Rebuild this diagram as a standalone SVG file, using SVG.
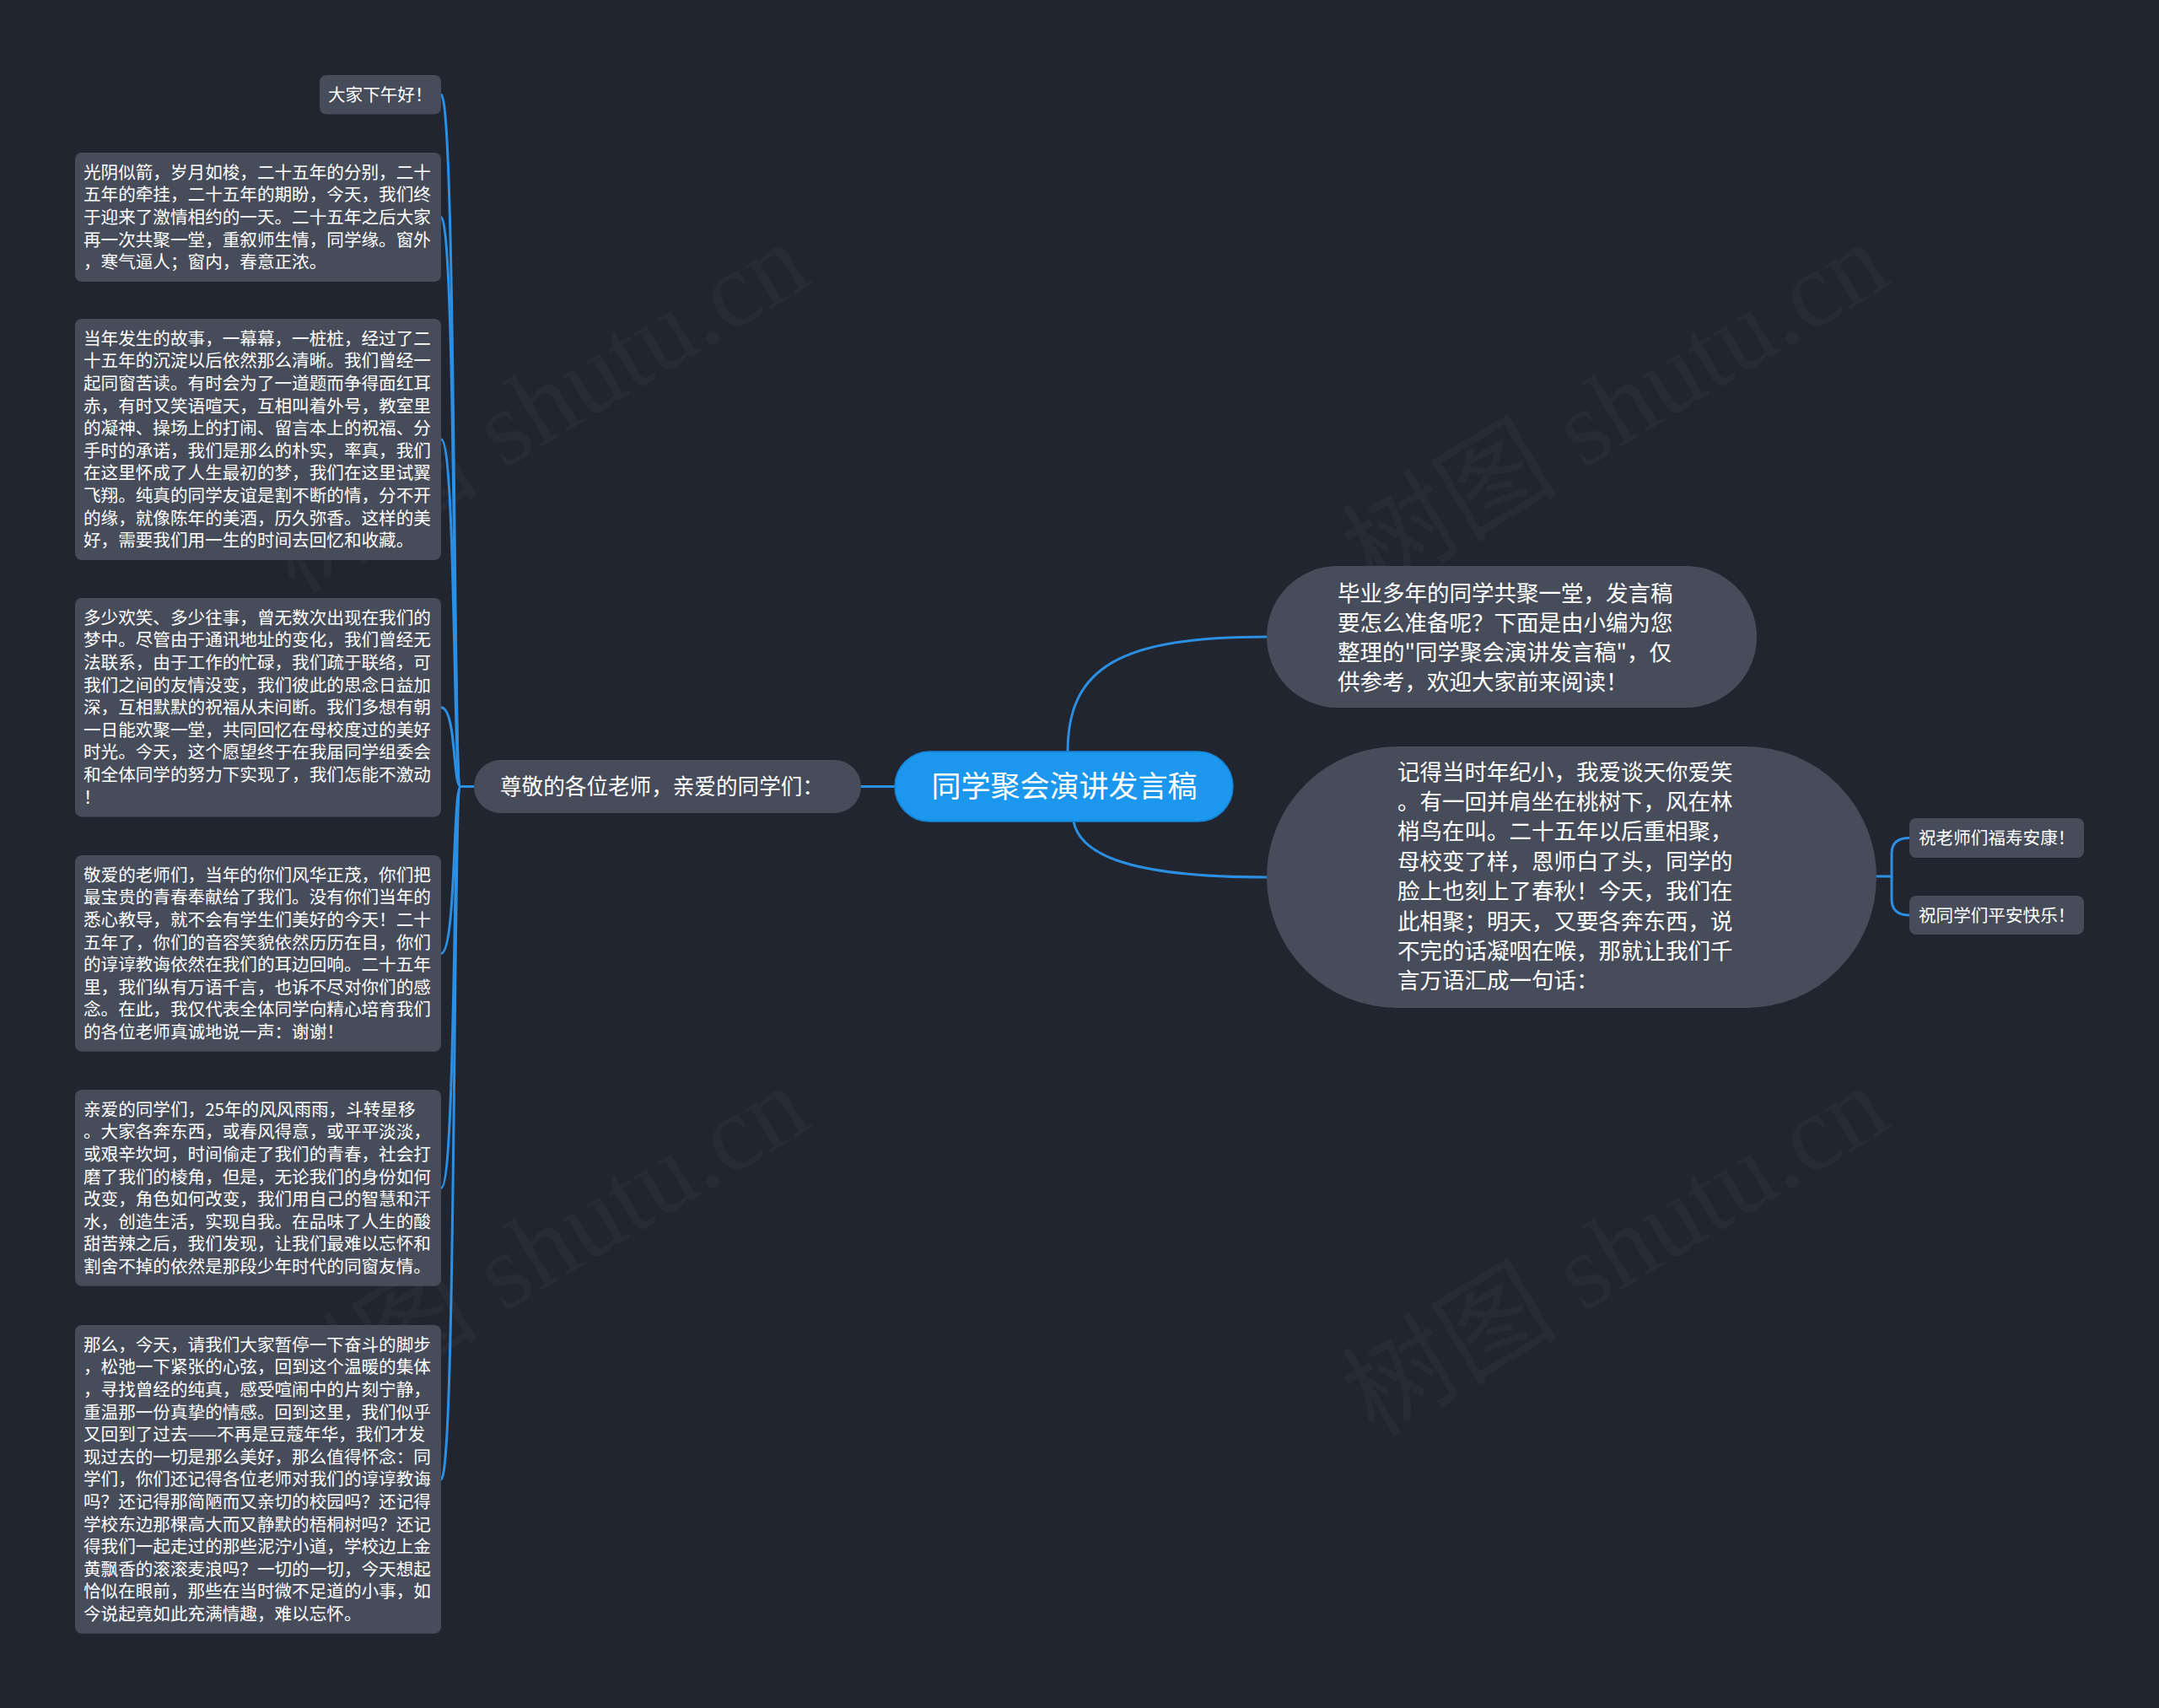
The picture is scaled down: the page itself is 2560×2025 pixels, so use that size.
<svg xmlns="http://www.w3.org/2000/svg" width="2560" height="2025" viewBox="0 0 2560 2025">
<style>
.bg{fill:#21252f}
.wm{font-family:"Liberation Serif","Noto Sans CJK SC",serif;font-size:128px;fill:#ffffff;fill-opacity:0.03}
.box{fill:#464c5a}
.t{font-family:"Noto Sans CJK SC","Noto Sans",sans-serif;fill:#ffffff}
.s{font-size:20.6px}
.m{font-size:26.5px}
.lnk{fill:none;stroke:#2b8fe4;stroke-width:3;stroke-linecap:round}
</style>
<rect class="bg" x="0" y="0" width="2560" height="2025"/>
<g id="watermarks">
<text class="wm" x="350" y="705" transform="rotate(-31 350 705)">树图 shutu.cn</text>
<text class="wm" x="1630" y="705" transform="rotate(-31 1630 705)">树图 shutu.cn</text>
<text class="wm" x="350" y="1705" transform="rotate(-31 350 1705)">树图 shutu.cn</text>
<text class="wm" x="1630" y="1705" transform="rotate(-31 1630 1705)">树图 shutu.cn</text>
</g>
<g id="connectors">
<path class="lnk" d="M1061 932.5 H1021"/>
<path class="lnk" d="M562 932.5 H546 C537 932.5 541 112.3 523 112.3"/>
<path class="lnk" d="M562 932.5 H546 C537 932.5 541 257.5 523 257.5"/>
<path class="lnk" d="M562 932.5 H546 C537 932.5 541 521 523 521"/>
<path class="lnk" d="M562 932.5 H546 C537 932.5 541 838.7 523 838.7"/>
<path class="lnk" d="M562 932.5 H546 C537 932.5 541 1130.4 523 1130.4"/>
<path class="lnk" d="M562 932.5 H546 C537 932.5 541 1408.4 523 1408.4"/>
<path class="lnk" d="M562 932.5 H546 C537 932.5 541 1753.9 523 1753.9"/>
<path class="lnk" d="M1266 891 C1266 790 1330 755 1502 755"/>
<path class="lnk" d="M1273 974 C1280 1010 1330 1040 1502 1040"/>
<path class="lnk" d="M2225 1039 H2243 V1012 Q2243 993.5 2264 993.5"/>
<path class="lnk" d="M2243 1039 V1066 Q2243 1085 2264 1085"/>
</g>
<g id="root">
<rect x="1061" y="891" width="401" height="83" rx="41.5" fill="#1c97ee" stroke="#1583d2" stroke-width="1.5"/>
<text class="t" x="1262" y="944.6" font-size="35" text-anchor="middle">同学聚会演讲发言稿</text>
</g>
<g id="n-greeting">
<rect class="box" x="562" y="901" width="459" height="63" rx="31.5"/>
<text class="t" x="593" y="941.5" font-size="25.6">尊敬的各位老师，亲爱的同学们：</text>
</g>
<g id="n-b1">
<rect class="box" x="379" y="89" width="144" height="46.6" rx="8"/>
<text class="t s" x="389" y="119.7">大家下午好！</text>
</g>
<g id="n-b2">
<rect class="box" x="89" y="181" width="434" height="153" rx="8"/>
<text class="t s" x="99" y="211.7"><tspan x="99">光阴似箭，岁月如梭，二十五年的分别，二十</tspan><tspan x="99" dy="26.6">五年的牵挂，二十五年的期盼，今天，我们终</tspan><tspan x="99" dy="26.6">于迎来了激情相约的一天。二十五年之后大家</tspan><tspan x="99" dy="26.6">再一次共聚一堂，重叙师生情，同学缘。窗外</tspan><tspan x="99" dy="26.6">，寒气逼人；窗内，春意正浓。</tspan></text>
</g>
<g id="n-b3">
<rect class="box" x="89" y="378" width="434" height="286" rx="8"/>
<text class="t s" x="99" y="408.7"><tspan x="99">当年发生的故事，一幕幕，一桩桩，经过了二</tspan><tspan x="99" dy="26.6">十五年的沉淀以后依然那么清晰。我们曾经一</tspan><tspan x="99" dy="26.6">起同窗苦读。有时会为了一道题而争得面红耳</tspan><tspan x="99" dy="26.6">赤，有时又笑语喧天，互相叫着外号，教室里</tspan><tspan x="99" dy="26.6">的凝神、操场上的打闹、留言本上的祝福、分</tspan><tspan x="99" dy="26.6">手时的承诺，我们是那么的朴实，率真，我们</tspan><tspan x="99" dy="26.6">在这里怀成了人生最初的梦，我们在这里试翼</tspan><tspan x="99" dy="26.6">飞翔。纯真的同学友谊是割不断的情，分不开</tspan><tspan x="99" dy="26.6">的缘，就像陈年的美酒，历久弥香。这样的美</tspan><tspan x="99" dy="26.6">好，需要我们用一生的时间去回忆和收藏。</tspan></text>
</g>
<g id="n-b4">
<rect class="box" x="89" y="709" width="434" height="259.4" rx="8"/>
<text class="t s" x="99" y="739.7"><tspan x="99">多少欢笑、多少往事，曾无数次出现在我们的</tspan><tspan x="99" dy="26.6">梦中。尽管由于通讯地址的变化，我们曾经无</tspan><tspan x="99" dy="26.6">法联系，由于工作的忙碌，我们疏于联络，可</tspan><tspan x="99" dy="26.6">我们之间的友情没变，我们彼此的思念日益加</tspan><tspan x="99" dy="26.6">深，互相默默的祝福从未间断。我们多想有朝</tspan><tspan x="99" dy="26.6">一日能欢聚一堂，共同回忆在母校度过的美好</tspan><tspan x="99" dy="26.6">时光。今天，这个愿望终于在我届同学组委会</tspan><tspan x="99" dy="26.6">和全体同学的努力下实现了，我们怎能不激动</tspan><tspan x="99" dy="26.6">！</tspan></text>
</g>
<g id="n-b5">
<rect class="box" x="89" y="1014" width="434" height="232.8" rx="8"/>
<text class="t s" x="99" y="1044.7"><tspan x="99">敬爱的老师们，当年的你们风华正茂，你们把</tspan><tspan x="99" dy="26.6">最宝贵的青春奉献给了我们。没有你们当年的</tspan><tspan x="99" dy="26.6">悉心教导，就不会有学生们美好的今天！二十</tspan><tspan x="99" dy="26.6">五年了，你们的音容笑貌依然历历在目，你们</tspan><tspan x="99" dy="26.6">的谆谆教诲依然在我们的耳边回响。二十五年</tspan><tspan x="99" dy="26.6">里，我们纵有万语千言，也诉不尽对你们的感</tspan><tspan x="99" dy="26.6">念。在此，我仅代表全体同学向精心培育我们</tspan><tspan x="99" dy="26.6">的各位老师真诚地说一声：谢谢！</tspan></text>
</g>
<g id="n-b6">
<rect class="box" x="89" y="1292" width="434" height="232.8" rx="8"/>
<text class="t s" x="99" y="1322.7"><tspan x="99">亲爱的同学们，25年的风风雨雨，斗转星移</tspan><tspan x="99" dy="26.6">。大家各奔东西，或春风得意，或平平淡淡，</tspan><tspan x="99" dy="26.6">或艰辛坎坷，时间偷走了我们的青春，社会打</tspan><tspan x="99" dy="26.6">磨了我们的棱角，但是，无论我们的身份如何</tspan><tspan x="99" dy="26.6">改变，角色如何改变，我们用自己的智慧和汗</tspan><tspan x="99" dy="26.6">水，创造生活，实现自我。在品味了人生的酸</tspan><tspan x="99" dy="26.6">甜苦辣之后，我们发现，让我们最难以忘怀和</tspan><tspan x="99" dy="26.6">割舍不掉的依然是那段少年时代的同窗友情。</tspan></text>
</g>
<g id="n-b7">
<rect class="box" x="89" y="1571" width="434" height="365.8" rx="8"/>
<text class="t s" x="99" y="1601.7"><tspan x="99">那么，今天，请我们大家暂停一下奋斗的脚步</tspan><tspan x="99" dy="26.6">，松弛一下紧张的心弦，回到这个温暖的集体</tspan><tspan x="99" dy="26.6">，寻找曾经的纯真，感受喧闹中的片刻宁静，</tspan><tspan x="99" dy="26.6">重温那一份真挚的情感。回到这里，我们似乎</tspan><tspan x="99" dy="26.6">又回到了过去——不再是豆蔻年华，我们才发</tspan><tspan x="99" dy="26.6">现过去的一切是那么美好，那么值得怀念：同</tspan><tspan x="99" dy="26.6">学们，你们还记得各位老师对我们的谆谆教诲</tspan><tspan x="99" dy="26.6">吗？还记得那简陋而又亲切的校园吗？还记得</tspan><tspan x="99" dy="26.6">学校东边那棵高大而又静默的梧桐树吗？还记</tspan><tspan x="99" dy="26.6">得我们一起走过的那些泥泞小道，学校边上金</tspan><tspan x="99" dy="26.6">黄飘香的滚滚麦浪吗？一切的一切，今天想起</tspan><tspan x="99" dy="26.6">恰似在眼前，那些在当时微不足道的小事，如</tspan><tspan x="99" dy="26.6">今说起竟如此充满情趣，难以忘怀。</tspan></text>
</g>
<g id="n-intro">
<rect class="box" x="1502" y="671" width="581" height="168" rx="84"/>
<text class="t m" x="1586" y="712.5"><tspan x="1586">毕业多年的同学共聚一堂，发言稿</tspan><tspan x="1586" dy="35.3">要怎么准备呢？下面是由小编为您</tspan><tspan x="1586" dy="35.3">整理的"同学聚会演讲发言稿"，仅</tspan><tspan x="1586" dy="35.3">供参考，欢迎大家前来阅读！</tspan></text>
</g>
<g id="n-poem">
<rect class="box" x="1502" y="885" width="723" height="310" rx="155"/>
<text class="t m" x="1657" y="924.5"><tspan x="1657">记得当时年纪小，我爱谈天你爱笑</tspan><tspan x="1657" dy="35.4">。有一回并肩坐在桃树下，风在林</tspan><tspan x="1657" dy="35.4">梢鸟在叫。二十五年以后重相聚，</tspan><tspan x="1657" dy="35.4">母校变了样，恩师白了头，同学的</tspan><tspan x="1657" dy="35.4">脸上也刻上了春秋！今天，我们在</tspan><tspan x="1657" dy="35.4">此相聚；明天，又要各奔东西，说</tspan><tspan x="1657" dy="35.4">不完的话凝咽在喉，那就让我们千</tspan><tspan x="1657" dy="35.4">言万语汇成一句话：</tspan></text>
</g>
<g id="n-wish1">
<rect class="box" x="2264" y="970" width="207" height="47" rx="8"/>
<text class="t s" x="2275" y="1001">祝老师们福寿安康！</text>
</g>
<g id="n-wish2">
<rect class="box" x="2264" y="1062" width="207" height="46" rx="8"/>
<text class="t s" x="2275" y="1092.5">祝同学们平安快乐！</text>
</g>
</svg>
